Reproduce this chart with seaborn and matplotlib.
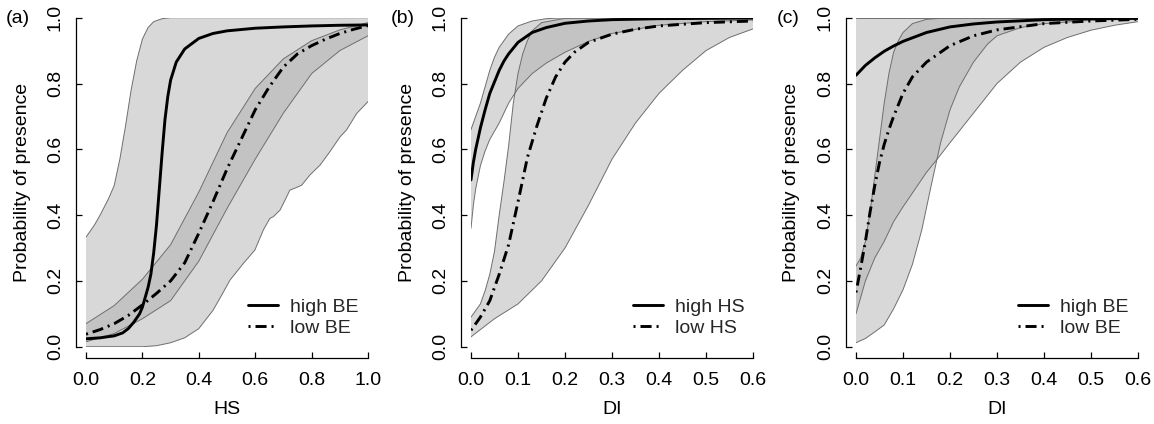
import numpy as np
import pandas as pd
import matplotlib
matplotlib.use("Agg")
import matplotlib.pyplot as plt
import seaborn as sns
from matplotlib.lines import Line2D

# ---------------- data ----------------
# Panel (a): x = HS
a_high_x = [0, 0.05, 0.1, 0.13, 0.15, 0.17, 0.19, 0.2, 0.21, 0.22, 0.23, 0.24, 0.25, 0.26, 0.27,
            0.28, 0.29, 0.3, 0.32, 0.35, 0.4, 0.45, 0.5, 0.6, 0.7, 0.8, 0.9, 1.0]
a_high_y = [0.024, 0.027, 0.033, 0.042, 0.055, 0.075, 0.1, 0.12, 0.15, 0.18, 0.22, 0.285, 0.37, 0.48,
            0.59, 0.69, 0.76, 0.81, 0.865, 0.905, 0.937, 0.952, 0.96, 0.968, 0.972, 0.975, 0.977, 0.978]
a_low_x = [0, 0.05, 0.1, 0.15, 0.2, 0.25, 0.3, 0.35, 0.4, 0.45, 0.5, 0.55, 0.6, 0.65, 0.7, 0.75,
           0.8, 0.85, 0.9, 0.95, 1.0]
a_low_y = [0.038, 0.052, 0.07, 0.095, 0.127, 0.162, 0.2, 0.255, 0.345, 0.44, 0.54, 0.63, 0.72, 0.79,
           0.85, 0.89, 0.915, 0.935, 0.952, 0.965, 0.976]
a_hiband_up_x = [0, 0.03, 0.05, 0.08, 0.1, 0.12, 0.14, 0.16, 0.18, 0.2, 0.22, 0.24, 0.27, 0.3, 1.0]
a_hiband_up_y = [0.333, 0.37, 0.40, 0.45, 0.49, 0.57, 0.67, 0.78, 0.87, 0.935, 0.97, 0.988, 0.997, 1.0, 1.0]
a_hiband_lo_x = [0, 0.1, 0.2, 0.25, 0.3, 0.35, 0.4, 0.45, 0.48, 0.511, 0.558, 0.599, 0.629, 0.652,
                 0.664, 0.688, 0.706, 0.723, 0.747, 0.765, 0.794, 0.83, 0.865, 0.901, 0.924, 0.96, 1.0]
a_hiband_lo_y = [0.0, 0.0, 0.0, 0.003, 0.012, 0.027, 0.055, 0.11, 0.155, 0.203, 0.253, 0.294, 0.355,
                 0.39, 0.395, 0.415, 0.446, 0.476, 0.484, 0.491, 0.522, 0.552, 0.593, 0.638, 0.659,
                 0.709, 0.745]
a_loband_x = [0, 0.1, 0.2, 0.3, 0.4, 0.5, 0.6, 0.7, 0.8, 0.9, 1.0]
a_loband_up_y = [0.07, 0.125, 0.205, 0.31, 0.47, 0.65, 0.785, 0.875, 0.93, 0.963, 0.985]
a_loband_lo_y = [0.015, 0.04, 0.085, 0.14, 0.26, 0.42, 0.57, 0.71, 0.83, 0.9, 0.945]

# Panel (b): x = DI
b_high_x = [0, 0.005, 0.01, 0.02, 0.03, 0.04, 0.05, 0.06, 0.07, 0.08, 0.1, 0.13, 0.16, 0.2, 0.25,
            0.3, 0.4, 0.5, 0.6]
b_high_y = [0.507, 0.56, 0.6, 0.665, 0.72, 0.77, 0.805, 0.84, 0.868, 0.89, 0.925, 0.955, 0.97,
            0.983, 0.99, 0.994, 0.997, 0.998, 0.999]
b_low_x = [0, 0.02, 0.04, 0.06, 0.08, 0.1, 0.12, 0.14, 0.16, 0.18, 0.2, 0.22, 0.25, 0.3, 0.35,
           0.4, 0.5, 0.6]
b_low_y = [0.05, 0.09, 0.14, 0.22, 0.31, 0.44, 0.575, 0.67, 0.755, 0.82, 0.865, 0.895, 0.925, 0.95,
           0.965, 0.975, 0.985, 0.99]
b_hiband_up_x = [0, 0.01, 0.02, 0.03, 0.04, 0.05, 0.06, 0.08, 0.1, 0.13, 0.16, 0.2, 0.6]
b_hiband_up_y = [0.66, 0.7, 0.74, 0.79, 0.84, 0.88, 0.91, 0.95, 0.975, 0.99, 0.997, 1.0, 1.0]
b_hiband_lo_x = [0, 0.005, 0.01, 0.02, 0.03, 0.04, 0.06, 0.08, 0.1, 0.13, 0.16, 0.2, 0.25, 0.3,
                 0.4, 0.5, 0.6]
b_hiband_lo_y = [0.36, 0.43, 0.48, 0.55, 0.595, 0.63, 0.68, 0.74, 0.785, 0.83, 0.862, 0.895, 0.928,
                 0.952, 0.977, 0.988, 0.993]
b_loband_up_x = [0, 0.02, 0.03, 0.04, 0.05, 0.06, 0.07, 0.08, 0.09, 0.1, 0.11, 0.12, 0.13, 0.15,
                 0.2, 0.6]
b_loband_up_y = [0.09, 0.13, 0.17, 0.22, 0.29, 0.4, 0.5, 0.61, 0.74, 0.83, 0.89, 0.93, 0.96, 0.985,
                 0.998, 1.0]
b_loband_lo_x = [0, 0.05, 0.1, 0.15, 0.2, 0.25, 0.3, 0.35, 0.4, 0.45, 0.5, 0.55, 0.6]
b_loband_lo_y = [0.03, 0.085, 0.13, 0.2, 0.3, 0.43, 0.57, 0.68, 0.77, 0.84, 0.9, 0.94, 0.966]

# Panel (c): x = DI
c_high_x = [0, 0.02, 0.04, 0.06, 0.08, 0.1, 0.15, 0.2, 0.25, 0.3, 0.4, 0.5, 0.6]
c_high_y = [0.825, 0.855, 0.878, 0.898, 0.914, 0.928, 0.955, 0.972, 0.981, 0.987, 0.994, 0.997, 0.998]
c_low_x = [0, 0.01, 0.02, 0.03, 0.04, 0.05, 0.06, 0.07, 0.08, 0.1, 0.12, 0.15, 0.2, 0.25, 0.3,
           0.4, 0.5, 0.6]
c_low_y = [0.165, 0.24, 0.32, 0.41, 0.49, 0.56, 0.615, 0.66, 0.7, 0.77, 0.82, 0.865, 0.915, 0.945,
           0.963, 0.982, 0.99, 0.995]
c_hiband_up_x = [0, 0.6]
c_hiband_up_y = [1.0, 1.0]
c_hiband_lo_x = [0, 0.02, 0.04, 0.06, 0.08, 0.1, 0.15, 0.17, 0.2, 0.25, 0.3, 0.35, 0.4, 0.45, 0.5,
                 0.55, 0.6]
c_hiband_lo_y = [0.1, 0.2, 0.27, 0.32, 0.38, 0.425, 0.53, 0.565, 0.62, 0.71, 0.8, 0.865, 0.91,
                 0.94, 0.962, 0.977, 0.988]
c_loband_up_x = [0, 0.01, 0.02, 0.03, 0.04, 0.05, 0.06, 0.07, 0.08, 0.09, 0.1, 0.12, 0.15, 0.2, 0.6]
c_loband_up_y = [0.245, 0.27, 0.32, 0.41, 0.52, 0.63, 0.74, 0.83, 0.895, 0.93, 0.955, 0.982, 0.995,
                 1.0, 1.0]
c_loband_lo_x = [0, 0.02, 0.04, 0.06, 0.08, 0.1, 0.12, 0.14, 0.16, 0.18, 0.2, 0.22, 0.25, 0.28,
                 0.3, 0.35, 0.4, 0.5, 0.6]
c_loband_lo_y = [0.012, 0.025, 0.045, 0.066, 0.115, 0.173, 0.25, 0.355, 0.49, 0.62, 0.72, 0.79,
                 0.865, 0.92, 0.945, 0.97, 0.982, 0.992, 0.996]

y_ticks = [0.0, 0.2, 0.4, 0.6, 0.8, 1.0]
y_ticklabels = ["0.0", "0.2", "0.4", "0.6", "0.8", "1.0"]
a_xticks = [0.0, 0.2, 0.4, 0.6, 0.8, 1.0]
a_xticklabels = ["0.0", "0.2", "0.4", "0.6", "0.8", "1.0"]
bc_xticks = [0.0, 0.1, 0.2, 0.3, 0.4, 0.5, 0.6]
bc_xticklabels = ["0.0", "0.1", "0.2", "0.3", "0.4", "0.5", "0.6"]

panel_letters = ["(a)", "(b)", "(c)"]
x_labels = ["HS", "DI", "DI"]
y_label = "Probability of presence"
legend_labels = [["high BE", "low BE"], ["high HS", "low HS"], ["high BE", "low BE"]]

# ---------------- style ----------------
sns.set_theme(style="ticks")
plt.rcParams["font.family"] = ["Liberation Sans", "DejaVu Sans"]
FS = 14
DASHDOT = (0, (0.7, 1.7, 3.8, 1.7))
LW = 2.1
FILL_C = "#aaaaaa"
FILL_A = 0.45
EDGE_C = "#6e6e6e"

fig = plt.figure(figsize=(11.54, 4.24), dpi=100)
W, H = 1154.0, 424.0
lefts = [86, 471, 856]
top_px, bot_px = 17.7, 346.7
width_px = 282


def band(ax, ux, uy, lx, ly):
    px = np.concatenate([np.asarray(ux, float), np.asarray(lx, float)[::-1]])
    py = np.concatenate([np.asarray(uy, float), np.asarray(ly, float)[::-1]])
    ax.fill(px, py, color=FILL_C, alpha=FILL_A, lw=0, zorder=1)
    ax.plot(ux, uy, color=EDGE_C, lw=0.7, zorder=2)
    ax.plot(lx, ly, color=EDGE_C, lw=0.7, zorder=2)


panels = [
    dict(xmax=1.0, xticks=a_xticks, xtl=a_xticklabels,
         bands=[(a_hiband_up_x, a_hiband_up_y, a_hiband_lo_x, a_hiband_lo_y),
                (a_loband_x, a_loband_up_y, a_loband_x, a_loband_lo_y)],
         high=(a_high_x, a_high_y), low=(a_low_x, a_low_y)),
    dict(xmax=0.6, xticks=bc_xticks, xtl=bc_xticklabels,
         bands=[(b_hiband_up_x, b_hiband_up_y, b_hiband_lo_x, b_hiband_lo_y),
                (b_loband_up_x, b_loband_up_y, b_loband_lo_x, b_loband_lo_y)],
         high=(b_high_x, b_high_y), low=(b_low_x, b_low_y)),
    dict(xmax=0.6, xticks=bc_xticks, xtl=bc_xticklabels,
         bands=[(c_hiband_up_x, c_hiband_up_y, c_hiband_lo_x, c_hiband_lo_y),
                (c_loband_up_x, c_loband_up_y, c_loband_lo_x, c_loband_lo_y)],
         high=(c_high_x, c_high_y), low=(c_low_x, c_low_y)),
]

for i, p in enumerate(panels):
    ax = fig.add_axes([lefts[i] / W, (H - bot_px) / H, width_px / W, (bot_px - top_px) / H])
    ax.set_facecolor("none")
    for b in p["bands"]:
        band(ax, *b)
    hx, hy = p["high"]
    lx, ly = p["low"]
    sns.lineplot(x=hx, y=hy, ax=ax, color="black", lw=LW, sort=False, estimator=None, zorder=3)
    sns.lineplot(x=lx, y=ly, ax=ax, color="black", lw=LW, sort=False, estimator=None, zorder=3,
                 linestyle=DASHDOT)
    ax.set_xlim(0, p["xmax"])
    ax.set_ylim(0, 1)
    for s in ["top", "right"]:
        ax.spines[s].set_visible(False)
    ax.spines["left"].set_position(("outward", 7))
    ax.spines["bottom"].set_position(("outward", 8))
    ax.spines["left"].set_bounds(0, 1)
    ax.spines["bottom"].set_bounds(0, p["xmax"])
    for s in ["left", "bottom"]:
        ax.spines[s].set_linewidth(0.9)
        ax.spines[s].set_color("black")
    ax.set_xticks(p["xticks"])
    ax.set_xticklabels(p["xtl"], fontsize=FS)
    ax.set_yticks(y_ticks)
    ax.set_yticklabels(y_ticklabels, fontsize=FS, rotation=90, va="center")
    ax.tick_params(axis="both", direction="in", length=4.3, width=0.9, color="black",
                   labelcolor="black")
    ax.tick_params(axis="x", pad=10)
    ax.tick_params(axis="y", pad=9)
    ax.set_xlabel(x_labels[i], fontsize=FS, color="black", va="center")
    ax.xaxis.set_label_coords(0.5, -(410.0 - bot_px) / (bot_px - top_px))
    ax.set_ylabel(y_label, fontsize=FS, color="black", va="center")
    ax.yaxis.set_label_coords(-(86 - 22.0) / width_px, 0.5)
    ax.grid(False)

    handles = [Line2D([], [], color="black", lw=LW),
               Line2D([], [], color="black", lw=LW, linestyle=DASHDOT)]
    ax.legend(handles, legend_labels[i], loc="center left",
              bbox_to_anchor=((248 - 86) / width_px, 1 - (317.5 - top_px) / (bot_px - top_px)),
              frameon=False, fontsize=FS, handlelength=1.55, handletextpad=0.62,
              labelspacing=0.15, borderpad=0, borderaxespad=0)

    fig.text((18 + (lefts[i] - 86)) / W, 1 - 18.5 / H, panel_letters[i], fontsize=FS,
             ha="center", va="center", color="black")

fig.savefig("out.png", dpi=100)
